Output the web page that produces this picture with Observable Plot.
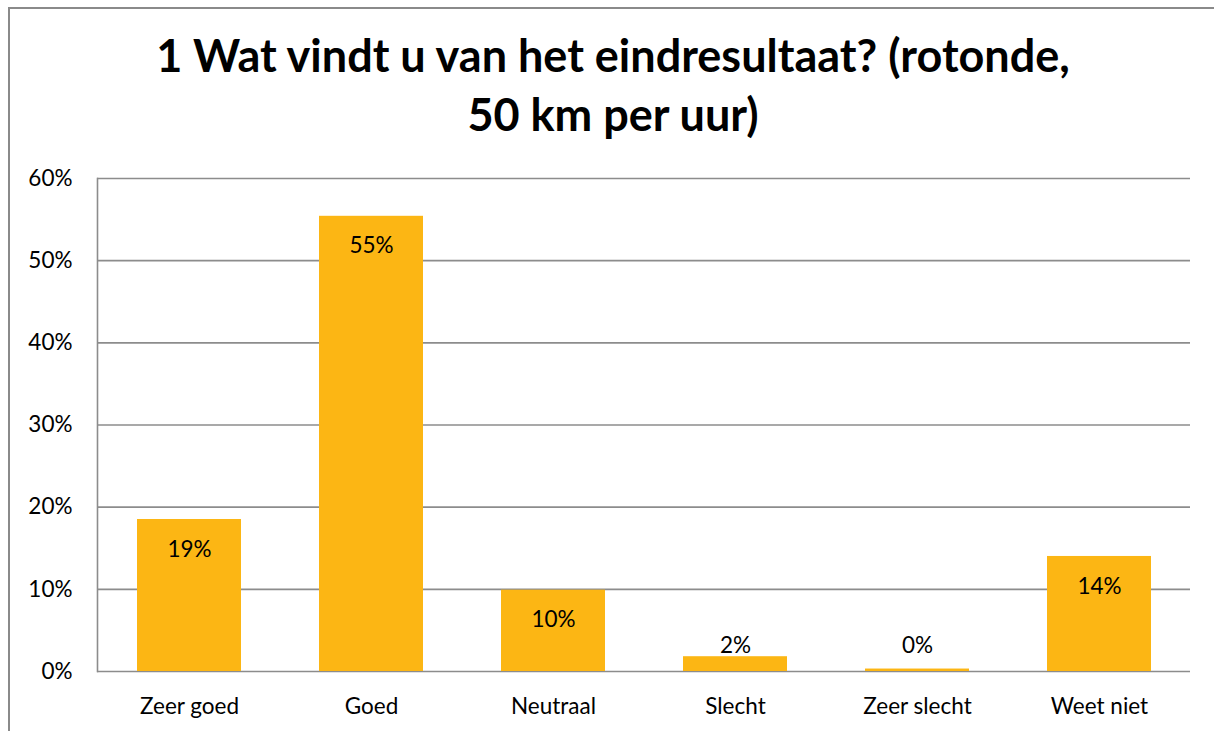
<!DOCTYPE html>
<html>
<head>
<meta charset="utf-8">
<script src="https://cdn.jsdelivr.net/npm/d3@7"></script>
<script src="https://cdn.jsdelivr.net/npm/@observablehq/plot@0.6"></script>
<style>
  html, body { margin: 0; padding: 0; background: #fff; }
  #wrap { position: relative; width: 1214px; height: 731px; overflow: hidden; background: #fff; }
  #border { position: absolute; left: 8px; top: 7px; width: 1230px; height: 760px; border: 2px solid #8a8a8a; box-sizing: border-box; }
  #title { position: relative; height: 150px; box-sizing: border-box; padding-top: 26px; padding-left: 12px;
    font-family: Lato, sans-serif; font-weight: bold; font-size: 45px; line-height: 59px; text-align: center; color: #000; }
  #chart { position: relative; }
</style>
</head>
<body>
<div id="wrap">
  <div id="border"></div>
  <div id="title">1 Wat vindt u van het eindresultaat? (rotonde,<br>50 km per uur)</div>
  <div id="chart"></div>
</div>
<script>
const categories = ["Zeer goed", "Goed", "Neutraal", "Slecht", "Zeer slecht", "Weet niet"];
const values = [18.5, 55.4, 9.9, 1.8, 0.3, 14.0];
const valueLabels = ["19%", "55%", "10%", "2%", "0%", "14%"];
const yTicks = [0, 10, 20, 30, 40, 50, 60];

const data = categories.map((c, i) => ({cat: c, value: values[i], label: valueLabels[i]}));
const big = data.filter(d => d.value >= 5);
const small = data.filter(d => d.value < 5);
const smallLabelY = d3.max(small, d => d.value);

const chart = Plot.plot({
  width: 1214,
  height: 581,
  marginLeft: 97,
  marginRight: 24,
  marginTop: 28,
  marginBottom: 60,
  style: {fontFamily: "Lato, sans-serif", fontSize: "22.5px", color: "#000", background: "transparent"},
  x: {domain: categories, paddingInner: 0.43, paddingOuter: 0.215, label: null},
  y: {domain: [0, 60], label: null},
  marks: [
    Plot.gridY(yTicks, {stroke: "#8c8c8c", strokeOpacity: 1, strokeWidth: 1.6}),
    Plot.frame({anchor: "left", stroke: "#8c8c8c", strokeWidth: 1.6}),
    Plot.barY(data, {x: "cat", y: "value", fill: "#FCB614"}),
    Plot.text(big, {x: "cat", y: "value", text: "label", dy: 30, fontSize: 22.5, fill: "#000"}),
    Plot.text(small, {x: "cat", y: () => smallLabelY, text: "label", dy: -11, fontSize: 22.5, fill: "#000"}),
    Plot.axisY(yTicks, {tickSize: 0, tickPadding: 25, tickFormat: d => d + "%", fontSize: 22.5, label: null}),
    Plot.axisX({tickSize: 0, tickPadding: 27, fontSize: 22.5, label: null})
  ]
});
document.getElementById("chart").appendChild(chart);
</script>
</body>
</html>
